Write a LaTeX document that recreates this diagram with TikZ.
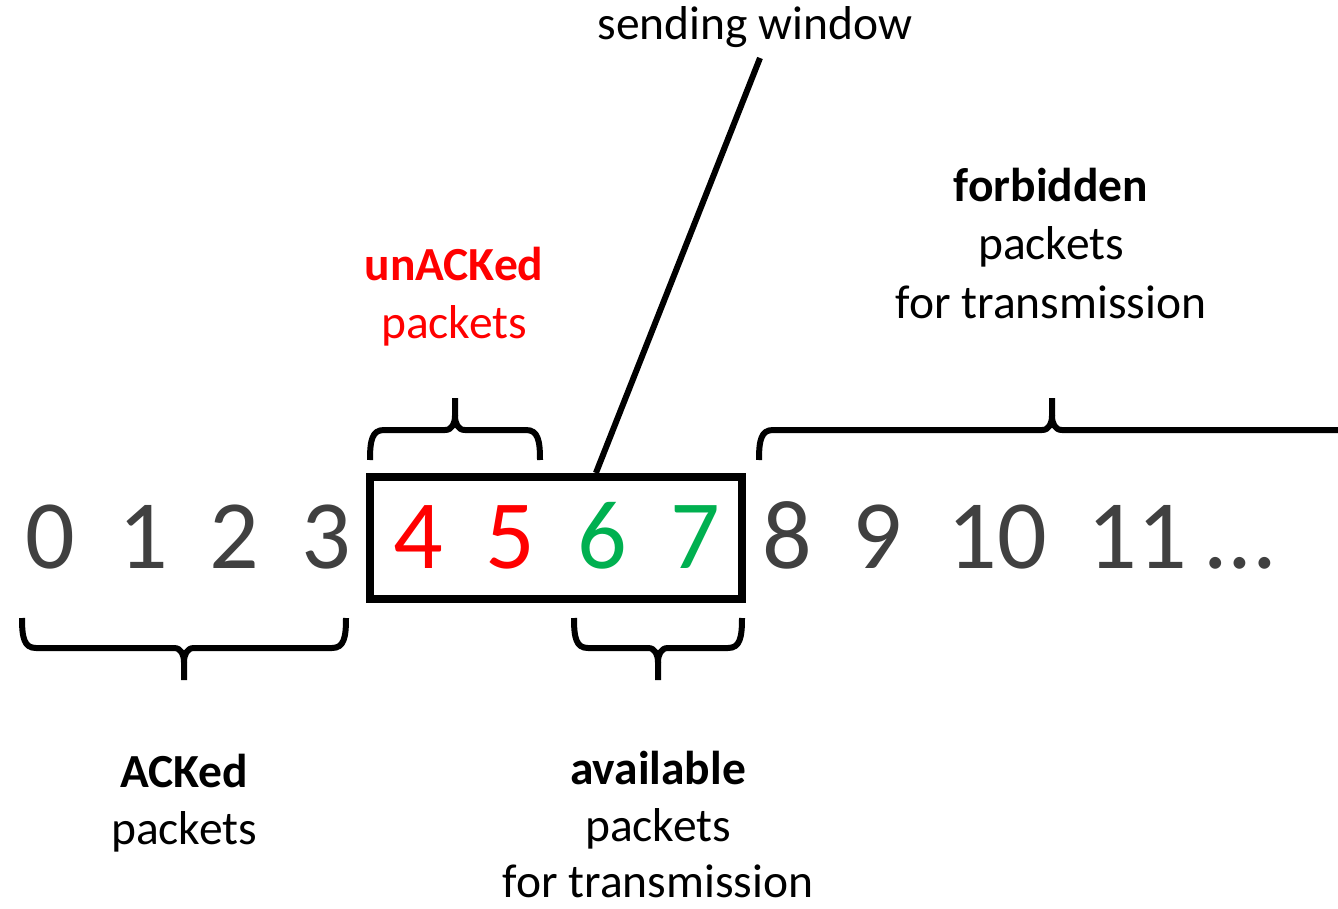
\documentclass[tikz,border=0pt]{standalone}
\usepackage{fontspec}
\setmainfont{Carlito}
\usetikzlibrary{calc}
\definecolor{digitgray}{HTML}{404040}
\definecolor{pktred}{HTML}{FF0000}
\definecolor{pktgreen}{HTML}{00B050}

% curly brace: left x, tip x, right x, bar y, ends y, tip y
\newcommand\curlybrace[6]{%
  \draw[brace] ({#1},{#5}) .. controls ({#1},{#4+(#5-#4)*0.35}) and ({#1+2},{#4}) .. ({#1+14},{#4})
    -- ({#2-10},{#4}) .. controls ({#2-3},{#4}) and ({#2},{#4+(#6-#4)*0.2}) .. ({#2},{#4+(#6-#4)*0.45}) -- ({#2},{#6});
  \draw[brace] ({#3},{#5}) .. controls ({#3},{#4+(#5-#4)*0.35}) and ({#3-2},{#4}) .. ({#3-14},{#4})
    -- ({#2+10},{#4}) .. controls ({#2+3},{#4}) and ({#2},{#4+(#6-#4)*0.2}) .. ({#2},{#4+(#6-#4)*0.45});
}

\begin{document}
\begin{tikzpicture}[x=0.5pt,y=-0.5pt,
  lbl/.style={anchor=base, inner sep=0pt, font=\fontsize{23.75}{28}\selectfont},
  num/.style={anchor=base, inner sep=0pt, font=\fontsize{49}{58}\selectfont, text=digitgray},
  brace/.style={line width=3pt, line join=round},
  windowbox/.style={draw, line width=4pt, inner sep=0pt, minimum width=186pt, minimum height=61pt}]
\useasboundingbox (0,0) rectangle (1338,909);

% sequence numbers
\node[num] (n0) at (50,568) {0};
\node[num] (n1) at (143,568) {1};
\node[num] (n2) at (234,568) {2};
\node[num] (n3) at (326,568) {3};
\node[num, text=pktred] (n4) at (418,568) {4};
\node[num, text=pktred] (n5) at (510,568) {5};
\node[num, text=pktgreen] (n6) at (602,568) {6};
\node[num, text=pktgreen] (n7) at (695,568) {7};
\node[num] (n8) at (787,568) {8};
\node[num] (n9) at (877,568) {9};
\node[num] (n10) at (997,568) {10};
\node[num] (n11) at (1137,568) {11};
\node[num] (ndots) at (1240,568) {…};

% sending window
\node[windowbox] (win) at (556,538) {};
\coordinate (lead) at (760,58);
\draw[line width=3pt] ($(win.north west)!0.605!(win.north east)$) -- (lead);
\node[lbl] (wintxt) at (755,40) {sending window};

% braces
\curlybrace{370}{455}{540}{430}{460}{398}
\curlybrace{759}{1052}{1400}{430}{460}{398}
\curlybrace{22}{184}{346}{648}{618}{680}
\curlybrace{574}{658}{742}{648}{618}{680}

% labels
\node[lbl, text=pktred, font=\fontsize{23.75}{28}\selectfont\bfseries] (un1) at (454,280) {unACKed};
\node[lbl, text=pktred] (un2) at (454,338) {packets};

\node[lbl, font=\fontsize{23.75}{28}\selectfont\bfseries] (fb1) at (1051,202) {forbidden};
\node[lbl] (fb2) at (1051,260) {packets};
\node[lbl] (fb3) at (1051,318) {for transmission};

\node[lbl, font=\fontsize{23.75}{28}\selectfont\bfseries] (ak1) at (184,787) {ACKed};
\node[lbl] (ak2) at (184,844) {packets};

\node[lbl, font=\fontsize{23.75}{28}\selectfont\bfseries] (av1) at (658,784) {available};
\node[lbl] (av2) at (658,841) {packets};
\node[lbl] (av3) at (658,897) {for transmission};
\end{tikzpicture}
\end{document}
